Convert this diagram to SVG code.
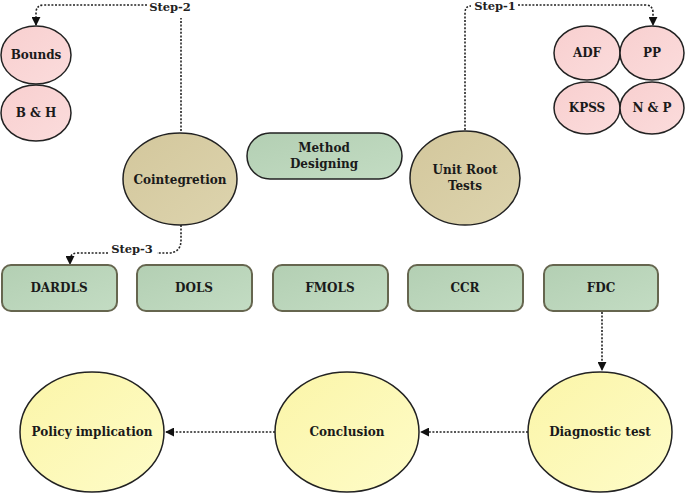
<svg xmlns="http://www.w3.org/2000/svg" width="685" height="494" viewBox="0 0 685 494">
<defs>
<linearGradient id="gPink" x1="0" y1="0" x2="1" y2="1"><stop offset="0" stop-color="#f8cfcf"/><stop offset="1" stop-color="#fbdcdc"/></linearGradient>
<linearGradient id="gTan" x1="0" y1="0" x2="1" y2="1"><stop offset="0" stop-color="#d3c79c"/><stop offset="1" stop-color="#ddd4ae"/></linearGradient>
<linearGradient id="gGreen" x1="0" y1="0" x2="1" y2="1"><stop offset="0" stop-color="#b3cfb3"/><stop offset="1" stop-color="#c3dcc3"/></linearGradient>
<linearGradient id="gYellow" x1="0" y1="0" x2="1" y2="1"><stop offset="0" stop-color="#fbf5a8"/><stop offset="1" stop-color="#fefcc8"/></linearGradient>
<marker id="arr" viewBox="0 0 10 10" refX="9" refY="5" markerWidth="9" markerHeight="9" markerUnits="userSpaceOnUse" orient="auto">
<path d="M0,0 L10,5 L0,10 Z" fill="#111"/>
</marker>
</defs>
<style>
.t{font-family:"DejaVu Serif","Liberation Serif",serif;font-weight:bold;font-size:12px;fill:#1a1a1a;text-anchor:middle;dominant-baseline:central}
.s{font-family:"DejaVu Serif","Liberation Serif",serif;font-weight:bold;font-size:11.5px;fill:#222;text-anchor:middle;dominant-baseline:central}
.pink{fill:url(#gPink);stroke:#222;stroke-width:1.5}
.tan{fill:url(#gTan);stroke:#222;stroke-width:1.5}
.pill{fill:url(#gGreen);stroke:#222;stroke-width:1.5}
.box{fill:url(#gGreen);stroke:#66664f;stroke-width:2}
.yel{fill:url(#gYellow);stroke:#222;stroke-width:1.5}
.c{fill:none;stroke:#222;stroke-width:1.6;stroke-dasharray:2 1.6}
</style>
<rect width="685" height="494" fill="#ffffff"/>
<g id="connectors">
<path class="c" d="M181,131 V18"/>
<path class="c" d="M147,5 H44 Q36,5 36,13 V25" marker-end="url(#arr)"/>
<path class="c" d="M465,130 V13 Q465,6 471,6"/>
<path class="c" d="M518,5 H645 Q653,5 653,13 V25" marker-end="url(#arr)"/>
<path class="c" d="M181,225 V240 Q181,253 168,253 H157"/>
<path class="c" d="M108,253 H78 Q70,253 70,260 V264" marker-end="url(#arr)"/>
<path class="c" d="M602,312 V370" marker-end="url(#arr)"/>
<path class="c" d="M528,432 H421" marker-end="url(#arr)"/>
<path class="c" d="M275,432 H166" marker-end="url(#arr)"/>
<text class="s" x="170" y="7">Step-2</text>
<text class="s" x="495" y="6">Step-1</text>
<text class="s" x="132" y="249">Step-3</text>
</g>
<g id="bounds"><ellipse class="pink" cx="36" cy="55" rx="35" ry="29"/><text class="t" x="36" y="55">Bounds</text></g>
<g id="bh"><ellipse class="pink" cx="36" cy="113" rx="35" ry="28"/><text class="t" x="36" y="113">B &amp; H</text></g>
<g id="adf"><ellipse class="pink" cx="587" cy="53" rx="33" ry="27"/><text class="t" x="587" y="53">ADF</text></g>
<g id="pp"><ellipse class="pink" cx="652" cy="53" rx="32" ry="27"/><text class="t" x="652" y="53">PP</text></g>
<g id="kpss"><ellipse class="pink" cx="587" cy="108" rx="33" ry="26"/><text class="t" x="587" y="108">KPSS</text></g>
<g id="np"><ellipse class="pink" cx="652" cy="108" rx="32" ry="26"/><text class="t" x="652" y="108">N &amp; P</text></g>
<g id="cointegration"><ellipse class="tan" cx="180" cy="179" rx="57" ry="46"/><text class="t" x="180" y="180">Cointegretion</text></g>
<g id="method"><rect class="pill" x="247" y="133" width="155" height="46" rx="23"/><text class="t" x="324" y="148">Method</text><text class="t" x="324" y="164">Designing</text></g>
<g id="unitroot"><ellipse class="tan" cx="465" cy="178" rx="55" ry="47"/><text class="t" x="465" y="170">Unit Root</text><text class="t" x="465" y="186">Tests</text></g>
<g id="dardls"><rect class="box" x="2" y="265" width="115" height="46" rx="9"/><text class="t" x="59" y="288">DARDLS</text></g>
<g id="dols"><rect class="box" x="137" y="265" width="115" height="46" rx="9"/><text class="t" x="194" y="288">DOLS</text></g>
<g id="fmols"><rect class="box" x="273" y="265" width="115" height="46" rx="9"/><text class="t" x="330" y="288">FMOLS</text></g>
<g id="ccr"><rect class="box" x="408" y="265" width="115" height="46" rx="9"/><text class="t" x="465" y="288">CCR</text></g>
<g id="fdc"><rect class="box" x="544" y="265" width="114" height="46" rx="9"/><text class="t" x="601" y="288">FDC</text></g>
<g id="diagnostic"><ellipse class="yel" cx="600" cy="432" rx="72" ry="60"/><text class="t" x="600" y="432">Diagnostic test</text></g>
<g id="conclusion"><ellipse class="yel" cx="347" cy="432" rx="72" ry="60"/><text class="t" x="347" y="432">Conclusion</text></g>
<g id="policy"><ellipse class="yel" cx="92" cy="432" rx="72" ry="60"/><text class="t" x="92" y="432">Policy implication</text></g>
</svg>
